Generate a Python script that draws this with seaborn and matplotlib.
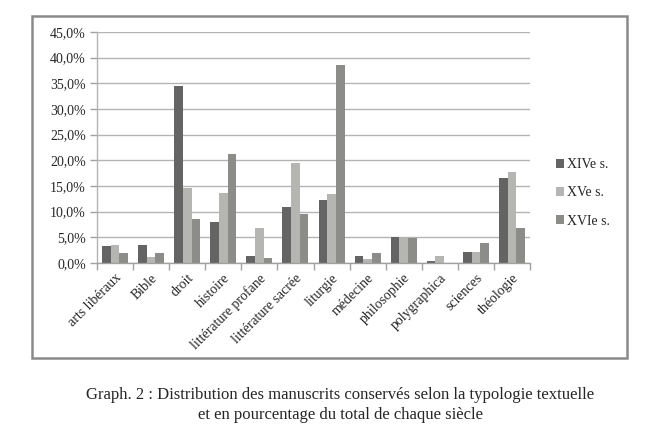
import matplotlib
matplotlib.use("Agg")
import matplotlib.pyplot as plt
import seaborn as sns
import pandas as pd
import numpy as np
from matplotlib.patches import Rectangle
from matplotlib.ticker import FuncFormatter, FixedLocator

categories = ["arts libéraux", "Bible", "droit", "histoire", "littérature profane",
              "littérature sacrée", "liturgie", "médecine", "philosophie",
              "polygraphica", "sciences", "théologie"]
series_names = ["XIVe s.", "XVe s.", "XVIe s."]
xiv = [3.4, 3.5, 34.5, 7.9, 1.4, 11.0, 12.3, 1.4, 5.0, 0.4, 2.1, 16.6]
xv = [3.6, 1.25, 14.7, 13.6, 6.8, 19.5, 13.5, 0.8, 4.8, 1.4, 2.1, 17.7]
xvi = [1.9, 1.9, 8.6, 21.3, 1.0, 9.5, 38.6, 1.9, 4.8, 0.0, 3.8, 6.8]
caption = ("Graph. 2 : Distribution des manuscrits conservés selon la typologie textuelle\n"
           "et en pourcentage du total de chaque siècle")

rows = []
for name, vals in zip(series_names, [xiv, xv, xvi]):
    for c, v in zip(categories, vals):
        rows.append({"cat": c, "siecle": name, "val": v})
df = pd.DataFrame(rows)

sns.set_theme(style="white")
plt.rcParams["font.family"] = ["Liberation Serif", "DejaVu Serif"]

W, H = 661, 432
fig = plt.figure(figsize=(W / 100, H / 100), dpi=100)
ax = fig.add_axes([97 / W, 1 - 263 / H, (530 - 97) / W, (263 - 32) / H])

palette = ["#646464", "#b5b5b1", "#8c8c88"]
sns.barplot(data=df, x="cat", y="val", hue="siecle", palette=palette,
            width=0.72, gap=0, saturation=1, ax=ax, legend=True, linewidth=0)

ax.set_ylim(0, 45)
ax.set_xlim(-0.5, len(categories) - 0.5)
ax.set_yticks(np.arange(0, 46, 5))
ax.yaxis.set_major_formatter(FuncFormatter(lambda v, p: f"{v:.1f}".replace(".", ",") + "%"))
ax.yaxis.grid(True, color="#b4b4b4", linewidth=1)
ax.set_axisbelow(True)
for s in ["top", "right"]:
    ax.spines[s].set_visible(False)
ax.spines["left"].set_color("#b4b4b4")
ax.spines["bottom"].set_color("#a0a0a0")
ax.spines["left"].set_linewidth(1)
ax.spines["bottom"].set_linewidth(1)
ax.set_xlabel("")
ax.set_ylabel("")
ax.tick_params(axis="y", length=5, color="#a0a0a0", width=1, labelsize=10, pad=3, left=True)
ax.set_xticks(range(len(categories)))
ax.set_xticklabels(categories, rotation=45, ha="right", rotation_mode="anchor", fontsize=10)
ax.tick_params(axis="x", which="major", length=0, pad=6)
ax.xaxis.set_minor_locator(FixedLocator(np.arange(-0.5, len(categories), 1)))
ax.tick_params(axis="x", which="minor", length=5, color="#a0a0a0", width=1, bottom=True)

leg = ax.legend(loc="center left", bbox_to_anchor=(550 / W, 1 - 193 / H),
                bbox_transform=fig.transFigure, frameon=False, fontsize=10,
                handlelength=0.6, handleheight=0.6, handletextpad=0.2,
                labelspacing=1.1, borderaxespad=0)

fig.patches.append(Rectangle((32 / W, 1 - 358 / H), (627 - 32) / W, (358 - 16) / H,
                             transform=fig.transFigure, fill=False,
                             edgecolor="#8a8a8a", linewidth=1.8))

fig.text(340 / W, 1 - 405 / H, caption, ha="center", va="center", fontsize=12,
         linespacing=1.4)

fig.savefig("out.png", dpi=100)
